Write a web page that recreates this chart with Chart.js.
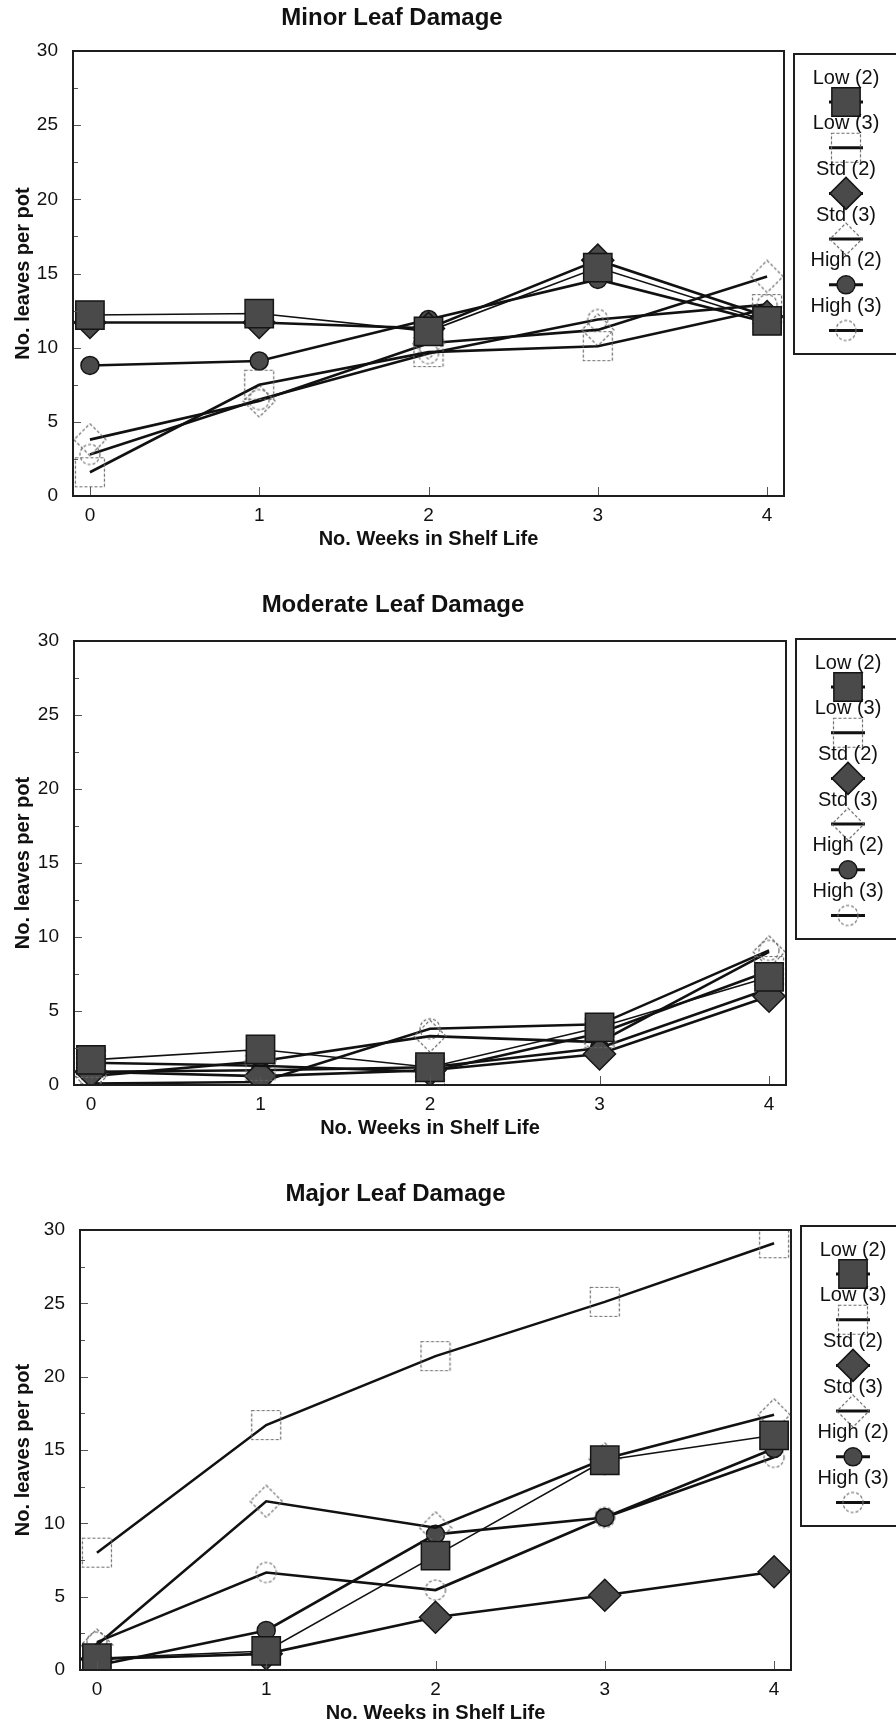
<!DOCTYPE html>
<html>
<head>
<meta charset="utf-8">
<script src="https://cdn.jsdelivr.net/npm/chart.js@4.4.0/dist/chart.umd.min.js"></script>
<style>
  html, body { margin: 0; padding: 0; background: #ffffff; }
  body { width: 896px; height: 1728px; position: relative; overflow: hidden; }
  canvas { position: absolute; left: 0; }
</style>
</head>
<body>
<canvas id="c1"></canvas>
<canvas id="c2"></canvas>
<canvas id="c3"></canvas>
<script>
// ---------------- DATA ----------------
const weeks = [0, 1, 2, 3, 4];
const seriesLabels = ['Low (2)', 'Low (3)', 'Std (2)', 'Std (3)', 'High (2)', 'High (3)'];
const panelTitles = ['Minor Leaf Damage', 'Moderate Leaf Damage', 'Major Leaf Damage'];
const xTickValues = [0, 1, 2, 3, 4];
const yTickValues = [0, 5, 10, 15, 20, 25, 30];
const xAxisTitle = 'No. Weeks in Shelf Life';
const yAxisTitle = 'No. leaves per pot';

// Minor leaf damage
const minorLow2  = [12.2, 12.3, 11.1, 15.4, 11.8];
const minorLow3  = [1.6, 7.5, 9.7, 10.1, 12.6];
const minorStd2  = [11.7, 11.7, 11.3, 15.9, 12.1];
const minorStd3  = [3.8, 6.4, 10.3, 11.2, 14.8];
const minorHigh2 = [8.8, 9.1, 11.9, 14.6, 11.7];
const minorHigh3 = [2.8, 6.5, 9.6, 11.9, 12.9];

// Moderate leaf damage
const moderateLow2  = [1.7, 2.4, 1.2, 3.9, 7.3];
const moderateLow3  = [1.5, 1.3, 0.9, 3.5, 7.7];
const moderateStd2  = [0.9, 0.6, 1.0, 2.1, 6.0];
const moderateStd3  = [0.6, 1.6, 3.3, 2.9, 9.0];
const moderateHigh2 = [0.9, 1.0, 1.2, 2.5, 6.5];
const moderateHigh3 = [0.1, 0.2, 3.8, 4.1, 9.1];

// Major leaf damage
const majorLow2  = [0.8, 1.3, 7.8, 14.3, 16.0];
const majorLow3  = [8.0, 16.7, 21.4, 25.1, 29.1];
const majorStd2  = [0.75, 1.1, 3.6, 5.1, 6.7];
const majorStd3  = [1.7, 11.5, 9.7, 14.4, 17.4];
const majorHigh2 = [0.3, 2.7, 9.25, 10.4, 15.1];
const majorHigh3 = [1.9, 6.65, 5.45, 10.4, 14.5];

const panelSeries = [
  [minorLow2, minorLow3, minorStd2, minorStd3, minorHigh2, minorHigh3],
  [moderateLow2, moderateLow3, moderateStd2, moderateStd3, moderateHigh2, moderateHigh3],
  [majorLow2, majorLow3, majorStd2, majorStd3, majorHigh2, majorHigh3]
];

// ---------------- STYLE / LAYOUT ----------------
const FONT = "'Liberation Sans', Arial, Helvetica, sans-serif";
const INK = '#111111';

function openMarker(shape) {
  const c = document.createElement('canvas');
  const s = shape === 'square' ? 32 : shape === 'diamond' ? 34 : 24;
  c.width = s; c.height = s;
  const g = c.getContext('2d');
  g.strokeStyle = '#6a6a6a';
  g.lineWidth = 1.2;
  g.setLineDash([3, 2]);
  const m = s / 2;
  g.beginPath();
  if (shape === 'square') {
    g.rect(m - 14.5, m - 14.5, 29, 29);
  } else if (shape === 'diamond') {
    g.moveTo(m, m - 16); g.lineTo(m + 16, m); g.lineTo(m, m + 16); g.lineTo(m - 16, m); g.closePath();
  } else {
    g.arc(m, m, 10, 0, Math.PI * 2);
  }
  g.stroke();
  return c;
}
const openSquare = openMarker('square');
const openDiamond = openMarker('diamond');
const openCircle = openMarker('circle');

const seriesStyles = [
  { pointStyle: 'rect',    radius: 20, fill: '#4a4a4a', border: '#151515', bw: 1.5, lineW: 1.6 },
  { pointStyle: openSquare, radius: 15, fill: 'rgba(0,0,0,0)', border: '#6a6a6a', bw: 0, lineW: 2.6 },
  { pointStyle: 'rectRot', radius: 16, fill: '#4a4a4a', border: '#151515', bw: 1.5, lineW: 2.6 },
  { pointStyle: openDiamond, radius: 16, fill: 'rgba(0,0,0,0)', border: '#6a6a6a', bw: 0, lineW: 2.6 },
  { pointStyle: 'circle',  radius: 9,  fill: '#4a4a4a', border: '#151515', bw: 1.5, lineW: 2.6 },
  { pointStyle: openCircle, radius: 10, fill: 'rgba(0,0,0,0)', border: '#6a6a6a', bw: 0, lineW: 2.6 }
];

const geoms = [
  { top: 0,    height: 576, titleY: 18,   plotTop: 51,   plotBottom: 496,  plotLeft: 73, plotRight: 784, legendTop: 54 },
  { top: 576,  height: 589, titleY: 605,  plotTop: 641,  plotBottom: 1085, plotLeft: 74, plotRight: 786, legendTop: 639 },
  { top: 1165, height: 563, titleY: 1194, plotTop: 1230, plotBottom: 1670, plotLeft: 80, plotRight: 791, legendTop: 1226 }
];

const frameAndTicks = {
  id: 'frameAndTicks',
  afterDatasetsDraw(chart) {
    const { ctx, chartArea: a, scales } = chart;
    const y = scales.y, x = scales.x;
    ctx.save();
    ctx.strokeStyle = '#555';
    ctx.lineWidth = 1;
    for (let v = 2.5; v < 30; v += 2.5) {
      const py = Math.round(y.getPixelForValue(v)) + 0.5;
      const len = (v % 5 === 0) ? 8 : 5;
      ctx.beginPath(); ctx.moveTo(a.left, py); ctx.lineTo(a.left + len, py); ctx.stroke();
    }
    xTickValues.forEach(v => {
      const px = Math.round(x.getPixelForValue(v)) + 0.5;
      ctx.beginPath(); ctx.moveTo(px, a.bottom); ctx.lineTo(px, a.bottom - 9); ctx.stroke();
    });
    ctx.strokeStyle = '#1e1e1e';
    ctx.lineWidth = 2;
    ctx.strokeRect(a.left, a.top, a.right - a.left, a.bottom - a.top);
    ctx.restore();
  }
};

const boxLegend = {
  id: 'boxLegend',
  afterDraw(chart, args, opts) {
    const { ctx, chartArea: a } = chart;
    const left = a.right + 10;
    const top = opts.top;
    ctx.save();
    ctx.strokeStyle = '#1e1e1e';
    ctx.lineWidth = 2;
    ctx.strokeRect(left, top, 200, 300);
    const cx = left + 52;
    chart.data.datasets.forEach((ds, i) => {
      const ty = top + 24 + i * 45.7;
      ctx.fillStyle = INK;
      ctx.font = '20px ' + FONT;
      ctx.textAlign = 'center';
      ctx.textBaseline = 'middle';
      ctx.fillText(ds.label, cx, ty);
      const sy = ty + 24;
      ctx.strokeStyle = INK;
      ctx.lineWidth = 3;
      ctx.beginPath(); ctx.moveTo(cx - 17, sy); ctx.lineTo(cx + 17, sy); ctx.stroke();
      const st = seriesStyles[i];
      ctx.fillStyle = st.fill;
      ctx.strokeStyle = st.border;
      ctx.lineWidth = st.bw;
      Chart.helpers.drawPoint(ctx, { pointStyle: st.pointStyle, radius: st.radius, rotation: 0, borderWidth: st.bw }, cx, sy);
    });
    ctx.restore();
  }
};

function makeChart(idx) {
  const g = geoms[idx];
  const canvas = document.getElementById('c' + (idx + 1));
  canvas.width = 896; canvas.height = g.height;
  canvas.style.width = '896px'; canvas.style.height = g.height + 'px';
  canvas.style.top = g.top + 'px';

  const titleLine = 24 * 1.2;
  const tPadTop = g.titleY - g.top - titleLine / 2;
  const tPadBottom = (g.plotTop - g.top) - tPadTop - titleLine;
  const xBox = g.height - (g.plotBottom - g.top);

  const datasets = panelSeries[idx].map((vals, i) => {
    const st = seriesStyles[i];
    return {
      label: seriesLabels[i],
      data: weeks.map((w, k) => ({ x: w, y: vals[k] })),
      borderColor: INK,
      borderWidth: st.lineW,
      tension: 0,
      fill: false,
      pointStyle: st.pointStyle,
      pointRadius: st.radius,
      pointBackgroundColor: st.fill,
      pointBorderColor: st.border,
      pointBorderWidth: st.bw
    };
  });

  new Chart(canvas, {
    type: 'line',
    data: { datasets },
    options: {
      responsive: false,
      animation: false,
      events: [],
      layout: { padding: { top: 0, left: 0, bottom: 0, right: 896 - g.plotRight } },
      plugins: {
        legend: { display: false },
        tooltip: { enabled: false },
        title: {
          display: true,
          text: panelTitles[idx],
          color: INK,
          font: { family: FONT, size: 24, weight: 'bold', lineHeight: 1.2 },
          padding: { top: tPadTop, bottom: tPadBottom }
        },
        boxLegend: { top: g.legendTop - g.top }
      },
      scales: {
        x: {
          type: 'linear',
          min: -0.1,
          max: 4.1,
          afterBuildTicks: s => { s.ticks = xTickValues.map(v => ({ value: v })); },
          afterFit: s => { s.height = xBox; },
          grid: { display: false, drawTicks: false },
          border: { display: false },
          ticks: { color: INK, font: { family: FONT, size: 19 }, padding: 8, maxRotation: 0, callback: v => String(v) },
          title: {
            display: true,
            text: xAxisTitle,
            color: INK,
            font: { family: FONT, size: 20, weight: 'bold', lineHeight: 1.2 },
            padding: { top: 0, bottom: xBox - 43 - 12 }
          }
        },
        y: {
          min: 0,
          max: 30,
          afterBuildTicks: s => { s.ticks = yTickValues.map(v => ({ value: v })); },
          afterFit: s => { s.width = g.plotLeft; },
          grid: { display: false, drawTicks: false },
          border: { display: false },
          ticks: { color: INK, font: { family: FONT, size: 19 }, padding: 15, callback: v => String(v) },
          title: {
            display: true,
            text: yAxisTitle,
            color: INK,
            font: { family: FONT, size: 20, weight: 'bold', lineHeight: 1.2 },
            padding: { top: 11, bottom: 0 }
          }
        }
      }
    },
    plugins: [frameAndTicks, boxLegend]
  });
}

[0, 1, 2].forEach(makeChart);
</script>
</body>
</html>
